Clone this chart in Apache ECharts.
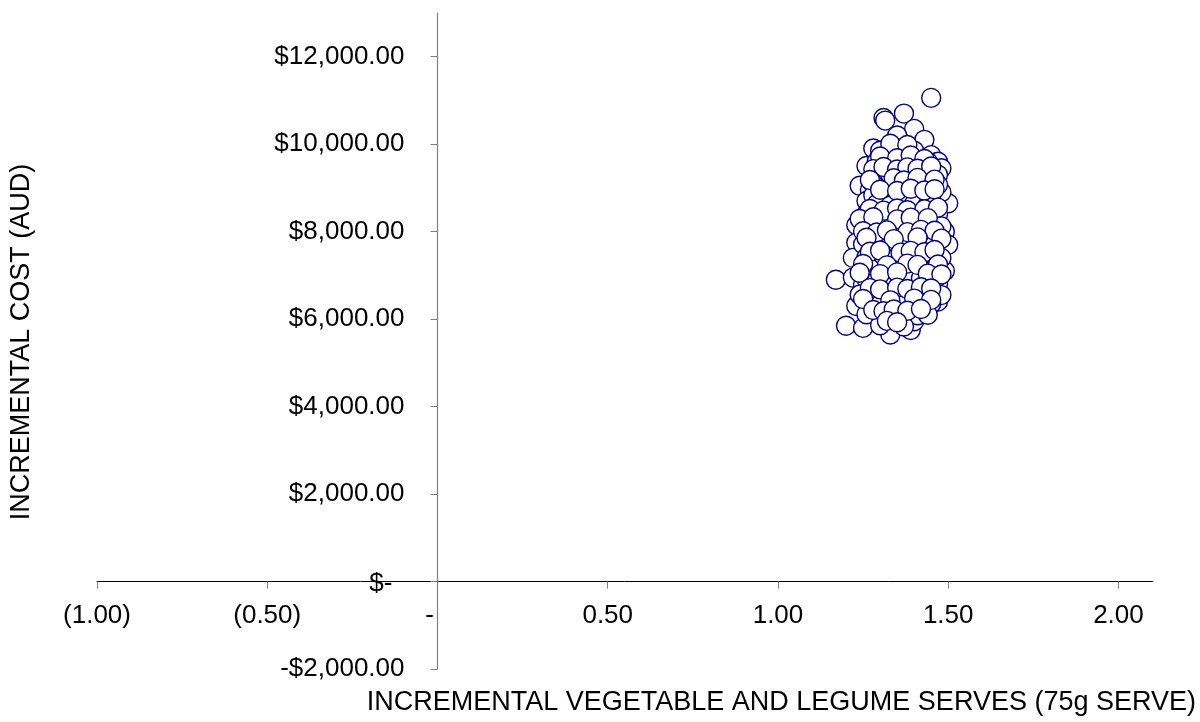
<!DOCTYPE html>
<html>
<head>
<meta charset="utf-8">
<script src="https://cdn.jsdelivr.net/npm/echarts@6/dist/echarts.min.js"></script>
<style>
  html, body { margin: 0; padding: 0; background: #fff; }
  #chart { width: 1200px; height: 722px; }
</style>
</head>
<body>
<div id="chart"></div>
<script>
// Bootstrapped incremental effect (serves) and incremental cost (AUD) pairs
var incServes = [
  1.45, 1.31, 1.315, 1.37, 1.40, 1.43, 1.35,
  1.28, 1.30, 1.33, 1.36, 1.38, 1.40, 1.45, 1.47,
  1.26, 1.29, 1.34, 1.42, 1.48, 1.47,
  1.24, 1.27, 1.30, 1.32, 1.36, 1.39, 1.44, 1.33,
  1.26, 1.29, 1.34, 1.38, 1.42, 1.46, 1.50, 1.48,
  1.23, 1.26, 1.30, 1.33, 1.36, 1.41, 1.45, 1.47, 1.49,
  1.23, 1.25, 1.28, 1.31, 1.34, 1.37, 1.40, 1.44, 1.47, 1.50,
  1.22, 1.27, 1.30, 1.33, 1.36, 1.39, 1.42, 1.45, 1.49,
  1.17, 1.22, 1.25, 1.28, 1.31, 1.33, 1.37, 1.40, 1.44, 1.47,
  1.23, 1.26, 1.29, 1.32, 1.35, 1.37, 1.39, 1.43, 1.47,
  1.20, 1.25, 1.30, 1.33, 1.36, 1.39, 1.40,
  1.33, 1.38,
  1.32, 1.37, 1.44,
  1.29, 1.33, 1.40, 1.44,
  1.28, 1.36, 1.41, 1.47,
  1.28, 1.32, 1.37, 1.41, 1.45,
  1.29, 1.33, 1.40, 1.44,
  1.26, 1.33, 1.37, 1.43,
  1.27, 1.31, 1.34, 1.40, 1.44, 1.48,
  1.25, 1.29, 1.33, 1.38, 1.42, 1.46,
  1.26, 1.29, 1.35, 1.40, 1.44, 1.48,
  1.27, 1.34, 1.37, 1.43, 1.46,
  1.26, 1.29, 1.36, 1.39, 1.42, 1.46,
  1.24, 1.28, 1.36, 1.42, 1.48,
  1.27, 1.30, 1.37, 1.41, 1.45,
  1.26, 1.33, 1.36, 1.41, 1.44,
  1.30, 1.37,
  1.30, 1.35, 1.39, 1.43,
  1.28, 1.31, 1.35, 1.38, 1.41, 1.45,
  1.27, 1.34, 1.37, 1.41, 1.46,
  1.30, 1.35, 1.39, 1.43, 1.46,
  1.27, 1.31, 1.35, 1.38, 1.43, 1.47,
  1.24, 1.28, 1.35, 1.39, 1.44,
  1.25, 1.29, 1.32, 1.38, 1.42, 1.46,
  1.26, 1.34, 1.41, 1.48,
  1.27, 1.30, 1.36, 1.39, 1.43, 1.46,
  1.25, 1.32, 1.38, 1.41, 1.47,
  1.24, 1.30, 1.35, 1.44, 1.48,
  1.27, 1.30, 1.35, 1.38, 1.42, 1.45,
  1.25, 1.33, 1.40, 1.45,
  1.28, 1.31, 1.34, 1.38, 1.42,
  1.32, 1.35
];
var incCost = [
  11060, 10600, 10540, 10700, 10350, 10100, 10200,
  9900, 9850, 9850, 9900, 9800, 9850, 9750, 9600,
  9500, 9600, 9650, 9550, 9450, 9300,
  9050, 8950, 9200, 9400, 9350, 9300, 9100, 9050,
  8700, 8800, 8650, 8700, 8850, 8800, 8650, 8900,
  8150, 8300, 8400, 8200, 8100, 8400, 8200, 8400, 8000,
  7750, 7500, 7850, 7700, 7600, 7750, 7900, 7800, 7600, 7700,
  7400, 7200, 7300, 7400, 7300, 7100, 7000, 7300, 7100,
  6900, 6950, 6800, 7000, 6750, 6850, 6800, 6600, 6600, 6800,
  6300, 6500, 6450, 6550, 6400, 6600, 6500, 6300, 6400,
  5850, 5800, 6050, 5650, 6000, 5750, 5950,
  10010, 9980,
  9590, 9560, 9600,
  9340, 9310, 9350, 9320,
  9090, 9060, 9100, 9070,
  8830, 8800, 8840, 8810, 8850,
  8630, 8600, 8640, 8610,
  8410, 8380, 8420, 8390,
  8160, 8130, 8170, 8140, 8150, 8120,
  7710, 7680, 7720, 7690, 7730, 7700,
  7410, 7380, 7420, 7390, 7430, 7400,
  7160, 7130, 7170, 7140, 7150,
  6910, 6880, 6920, 6890, 6930, 6900,
  6560, 6530, 6570, 6540, 6550,
  6360, 6330, 6370, 6340, 6350,
  6110, 6080, 6120, 6090, 6100,
  5860, 5830,
  9720, 9680, 9740, 9660,
  9430, 9480, 9420, 9470, 9440, 9490,
  9180, 9220, 9170, 9230, 9190,
  8960, 8930, 8980, 8940, 8970,
  8520, 8480, 8530, 8490, 8510, 8550,
  8290, 8330, 8280, 8320, 8310,
  8010, 7980, 8030, 7990, 8040, 8020,
  7860, 7830, 7870, 7840,
  7540, 7570, 7520, 7560, 7530, 7580,
  7260, 7230, 7270, 7240, 7250,
  7060, 7030, 7070, 7040, 7020,
  6710, 6680, 6720, 6690, 6730, 6700,
  6460, 6430, 6470, 6440,
  6210, 6180, 6220, 6190, 6230,
  5960, 5930
];
var xTicks = [-1, -0.5, 0, 0.5, 1, 1.5, 2];
var yTicks = [-2000, 0, 2000, 4000, 6000, 8000, 10000, 12000];
var xTitle = 'INCREMENTAL VEGETABLE AND LEGUME SERVES (75g SERVE)';
var yTitle = 'INCREMENTAL COST (AUD)';

var points = incServes.map(function (x, i) { return [x, incCost[i]]; });

function money(v) {
  var s = Math.abs(v).toFixed(2).split('.');
  s[0] = s[0].replace(/\B(?=(\d{3})+(?!\d))/g, ',');
  return s.join('.');
}

// Plot area: x from -1 to 2.1, y from -2000 to 13000
var GRID = { left: 97, right: 47.5, top: 13, bottom: 53 };
var X_MIN = -1, X_MAX = 2.1, Y_MIN = -2000, Y_MAX = 13000;
var plotW = 1200 - GRID.left - GRID.right;
var plotH = 722 - GRID.top - GRID.bottom;
// the axes cross at (0, 0): shift each axis from the grid edge onto the zero line
var xAxisShift = -plotH * (0 - Y_MIN) / (Y_MAX - Y_MIN);
var yAxisShift = -plotW * (0 - X_MIN) / (X_MAX - X_MIN);

var FONT = '"Liberation Sans", Arial, sans-serif';
var TICK_SIZE = 26, TITLE_SIZE = 27;
var chart = echarts.init(document.getElementById('chart'), null, { renderer: 'canvas' });
chart.setOption({
  animation: false,
  backgroundColor: '#fff',
  grid: { left: GRID.left, right: GRID.right, top: GRID.top, bottom: GRID.bottom, containLabel: false, outerBoundsMode: 'none' },
  xAxis: {
    type: 'value', min: X_MIN, max: X_MAX,
    position: 'bottom', offset: xAxisShift,
    splitLine: { show: false },
    axisLine: { onZero: false, lineStyle: { color: '#000', width: 1 } },
    axisTick: { customValues: xTicks, length: 7, lineStyle: { color: '#808080' } },
    axisLabel: {
      customValues: xTicks, margin: 21,
      color: '#000', fontSize: TICK_SIZE, fontFamily: FONT,
      formatter: function (v) {
        if (Math.abs(v) < 1e-9) return '{z|-}';
        if (v < 0) return '(' + Math.abs(v).toFixed(2) + ')';
        return v.toFixed(2);
      },
      rich: { z: { fontSize: TICK_SIZE, fontFamily: FONT, color: '#000', padding: [0, 16, 0, 0] } }
    }
  },
  yAxis: {
    type: 'value', min: Y_MIN, max: Y_MAX,
    position: 'left', offset: yAxisShift,
    splitLine: { show: false },
    axisLine: { onZero: false, lineStyle: { color: '#808080', width: 1.2 } },
    axisTick: { customValues: yTicks, length: 7, lineStyle: { color: '#808080' } },
    axisLabel: {
      customValues: yTicks, margin: 33,
      color: '#000', fontSize: TICK_SIZE, fontFamily: FONT,
      formatter: function (v) {
        if (v === 0) return '{z|$-}';
        return (v < 0 ? '-$' : '$') + money(v);
      },
      rich: { z: { fontSize: TICK_SIZE, fontFamily: FONT, color: '#000', padding: [4, 12, 0, 0] } }
    }
  },
  series: [{
    type: 'scatter',
    data: points,
    symbol: 'circle',
    symbolSize: 19,
    itemStyle: { color: '#fff', borderColor: '#000080', borderWidth: 1.4, opacity: 1 }
  }],
  graphic: [
    {
      type: 'text', x: 22, y: 342, rotation: Math.PI / 2,
      style: { text: yTitle, fill: '#000', font: TITLE_SIZE + 'px ' + FONT, textAlign: 'center', textVerticalAlign: 'middle' }
    },
    {
      type: 'text', x: 1196, y: 703,
      style: { text: xTitle, fill: '#000', font: TITLE_SIZE + 'px ' + FONT, textAlign: 'right', textVerticalAlign: 'middle' }
    }
  ]
});
</script>
</body>
</html>
